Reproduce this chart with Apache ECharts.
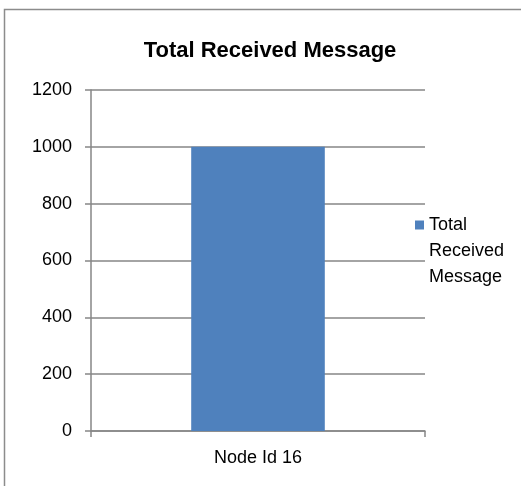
<!DOCTYPE html>
<html>
<head>
<meta charset="utf-8">
<script src="https://cdn.jsdelivr.net/npm/echarts@6/dist/echarts.min.js"></script>
<style>
  html, body { margin: 0; padding: 0; background: #fff; }
  #chart { width: 521px; height: 486px; }
</style>
</head>
<body>
<div id="chart"></div>
<script>
// data
var categories = ["Node Id 16"];
var received = [1000];
var seriesName = "Total Received Message";
var yTicks = { min: 0, max: 1200, step: 200 };

var myChart = echarts.init(document.getElementById("chart"));
var font = "'Liberation Sans', Arial, sans-serif";
var option = {
  backgroundColor: "#fff",
  animation: false,
  title: {
    text: "Total Received Message",
    left: 265,
    textAlign: "center",
    top: 35,
    textStyle: { fontFamily: font, fontSize: 22, fontWeight: "bold", color: "#000" }
  },
  legend: {
    left: 415,
    top: 160,
    padding: 0,
    orient: "vertical",
    itemWidth: 9,
    itemHeight: 9,
    itemGap: 0,
    icon: "rect",
    // blank lines above keep the square level with the first line
    formatter: function () { return " \n \nTotal\nReceived\nMessage"; },
    textStyle: { fontFamily: font, fontSize: 18, color: "#000", lineHeight: 26 },
    data: [seriesName]
  },
  grid: { left: 91, right: 96, top: 90, bottom: 55 },
  xAxis: {
    type: "category",
    data: categories,
    axisLine: { lineStyle: { color: "#868686", width: 1.5 } },
    axisTick: { show: true, length: 6, lineStyle: { color: "#868686", width: 1.5 } },
    axisLabel: { margin: 18, fontFamily: font, fontSize: 18, color: "#000" }
  },
  yAxis: {
    type: "value",
    min: yTicks.min,
    max: yTicks.max,
    interval: yTicks.step,
    axisLine: { show: true, lineStyle: { color: "#868686", width: 1.5 } },
    axisTick: { show: true, length: 6, lineStyle: { color: "#868686", width: 1.5 } },
    axisLabel: {
      margin: 19, fontFamily: font, fontSize: 18, color: "#000",
      formatter: function (v) { return String(v); }
    },
    splitLine: { show: true, lineStyle: { color: "#868686", width: 1.5 } }
  },
  series: [
    {
      name: seriesName,
      type: "bar",
      data: received,
      barWidth: "40%",
      itemStyle: { color: "#4f81bd" }
    }
  ],
  graphic: [
    {
      type: "rect",
      silent: true,
      shape: { x: 4.5, y: 9.5, width: 1000, height: 1000 },
      style: { fill: "none", stroke: "#8c8c8c", lineWidth: 1.5 }
    }
  ]
};
myChart.setOption(option);
</script>
</body>
</html>
